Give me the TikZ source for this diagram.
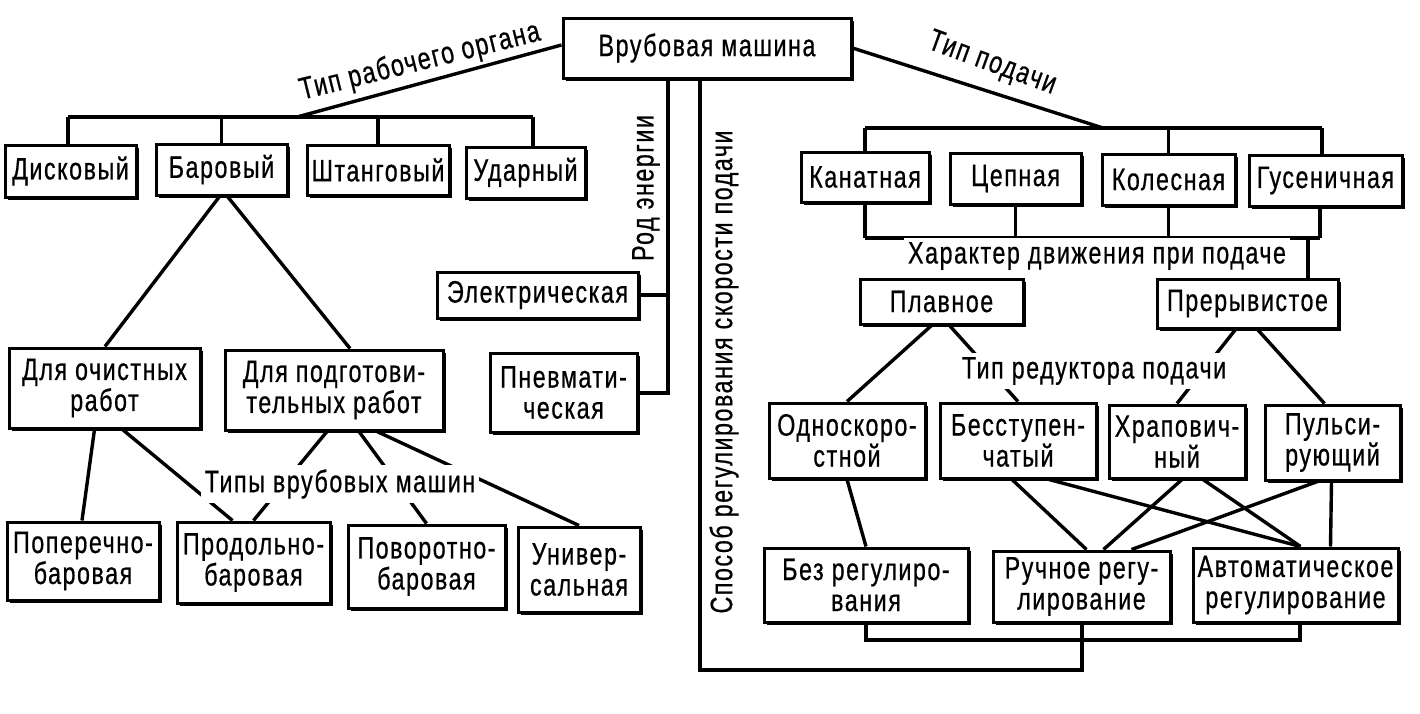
\documentclass[tikz,border=0pt]{standalone}
\usepackage{fontspec}
\setmainfont{Liberation Sans}[FakeStretch=0.75,LetterSpace=5,FakeBold=0.6]
\usetikzlibrary{shadows,calc}
\begin{document}
\begin{tikzpicture}[x=0.5pt,y=-0.5pt,
  every node/.style={font=\fontsize{15.5}{15.5}\selectfont},
  box/.style={draw, line width=1.5pt, fill=white, inner sep=0pt, align=center,
    drop shadow={shadow xshift=1.3pt, shadow yshift=-1.3pt, fill=black, opacity=1}},
  ln/.style={line width=1.7pt},
  lbl/.style={inner sep=1pt},
  wlbl/.style={fill=white, inner sep=2pt}]
\fill[white] (0,0) rectangle (1420,713);
\useasboundingbox (0,0) rectangle (1420,713);

% ---------- boxes ----------
\node[box, minimum width=144pt, minimum height=30pt] (main) at (707,48) {Врубовая машина};

\node[box, minimum width=65.5pt, minimum height=26pt] (disk) at (70.5,171) {Дисковый};
\node[box, minimum width=65.5pt, minimum height=25.5pt] (bar) at (221.5,169.5) {Баровый};
\node[box, minimum width=71pt, minimum height=25pt] (shtang) at (378,170) {Штанговый};
\node[box, minimum width=59.5pt, minimum height=25.5pt] (udar) at (525.5,172.5) {Ударный};

\node[box, minimum width=64pt, minimum height=25pt] (kanat) at (865,177) {Канатная};
\node[box, minimum width=65.5pt, minimum height=25.5pt] (cep) at (1015.5,178.5) {Цепная};
\node[box, minimum width=66.5pt, minimum height=25.5pt] (koles) at (1168.5,179.5) {Колесная};
\node[box, minimum width=76.5pt, minimum height=25.5pt] (gusen) at (1325.5,180.5) {Гусеничная};

\node[box, minimum width=81.5pt, minimum height=22.5pt] (plavn) at (941.5,301.5) {Плавное};
\node[box, minimum width=90.5pt, minimum height=24.5pt] (prer) at (1247.5,303.5) {Прерывистое};

\node[box, minimum width=78pt, minimum height=37.5pt] (odno) at (847,440.5) {Односкоро-\\стной};
\node[box, minimum width=78pt, minimum height=37.5pt] (besst) at (1018,440.5) {Бесступен-\\чатый};
\node[box, minimum width=68pt, minimum height=36.5pt] (hrap) at (1177,441.5) {Храпович-\\ный};
\node[box, minimum width=67.5pt, minimum height=37.5pt] (puls) at (1332.5,442.5) {Пульси-\\рующий};

\node[box, minimum width=102pt, minimum height=37pt] (bez) at (866,585) {Без регулиро-\\вания};
\node[box, minimum width=88.5pt, minimum height=35.5pt] (ruch) at (1081.5,586.5) {Ручное регу-\\лирование};
\node[box, minimum width=102.5pt, minimum height=37pt] (avto) at (1295.5,585) {Автоматическое\\регулирование};

\node[box, minimum width=100.5pt, minimum height=23pt] (elek) at (537.5,295) {Электрическая};
\node[box, minimum width=73.5pt, minimum height=39.5pt] (pnev) at (563.5,392.5) {Пневмати-\\ческая};

\node[box, minimum width=95.5pt, minimum height=40pt] (ochist) at (104.5,388) {Для очистных\\работ};
\node[box, minimum width=109pt, minimum height=40pt] (podg) at (334,390) {Для подготови-\\тельных работ};

\node[box, minimum width=76pt, minimum height=39pt] (poper) at (83,561) {Поперечно-\\баровая};
\node[box, minimum width=76.5pt, minimum height=40.5pt] (prod) at (253.5,562.5) {Продольно-\\баровая};
\node[box, minimum width=78.5pt, minimum height=41.5pt] (povor) at (426.5,566.5) {Поворотно-\\баровая};
\node[box, minimum width=61pt, minimum height=42.5pt] (univ) at (579,569.5) {Универ-\\сальная};

% ---------- coordinates ----------
\coordinate (busA1) at (68,117);
\coordinate (busA2) at (533,117);
\coordinate (busAm) at (297,117);
\coordinate (busB1) at (865,128);
\coordinate (busB2) at (1322,128);
\coordinate (busBm) at (1103,128);
\coordinate (busC1) at (865,238);
\coordinate (busC2) at (1320,238);
\coordinate (busC3) at (1308,238);
\coordinate (eline) at (668,393);
\coordinate (s1) at (700,670);
\coordinate (s2) at (1082,670);
\coordinate (busD1) at (866,640);
\coordinate (busD2) at (1300,640);

% ---------- connectors ----------
% working member
\draw[ln] ($(main.west)+(0,-3)$) -- (busAm);
\draw[ln] (busA1) -- (busA2);
\draw[ln] (busA1) -- (busA1 |- disk.north);
\draw[ln] (bar.north |- busA1) -- (bar.north);
\draw[ln] (shtang.north |- busA1) -- (shtang.north);
\draw[ln] (busA2) -- (busA2 |- udar.north);
% feed type
\draw[ln] (main.east) -- (busBm);
\draw[ln] (busB1) -- (busB2);
\draw[ln] (busB1) -- (busB1 |- kanat.north);
\draw[ln] (koles.north |- busB1) -- (koles.north);
\draw[ln] (busB2) -- (busB2 |- gusen.north);
\draw[ln] (busC1) -- (busC2);
\draw[ln] (kanat.south -| busC1) -- (busC1);
\draw[ln] (cep.south) -- (cep.south |- busC1);
\draw[ln] (koles.south) -- (koles.south |- busC1);
\draw[ln] (gusen.south -| busC2) -- (busC2);
\draw[ln] (busC3) -- (busC3 |- prer.north);
% energy
\draw[ln] (main.south -| eline) -- (eline) -- (eline -| pnev.east);
\draw[ln] (elek.east) -- (elek.east -| eline);
% speed regulation
\draw[ln] (main.south -| s1) -- (s1) -- (s2) -- (s2 |- ruch.south);
\draw[ln] (busD1 |- bez.south) -- (busD1) -- (busD2) -- (busD2 |- avto.south);
% bar machines
\draw[ln] ($(bar.south)+(-2,0)$) -- ($(ochist.north)+(0.5,0)$);
\draw[ln] ($(bar.south)+(6,0)$) -- ($(podg.north)+(16,0)$);
\draw[ln] ($(ochist.south)+(-10,0)$) -- ($(poper.north)+(-1,0)$);
\draw[ln] ($(ochist.south)+(18,0)$) -- ($(prod.north)+(-21,0)$);
\draw[ln] ($(podg.south)+(-7,0)$) -- (prod.north);
\draw[ln] ($(podg.south)+(25,0)$) -- (povor.north);
\draw[ln] ($(podg.south)+(43,0)$) -- (univ.north);
% movement / reducer
\draw[ln] ($(plavn.south)+(-10,0)$) -- (odno.north);
\draw[ln] ($(plavn.south)+(8,0)$) -- (besst.north);
\draw[ln] ($(prer.south)+(-12,0)$) -- (hrap.north);
\draw[ln] ($(prer.south)+(10,0)$) -- ($(puls.north)+(-8,0)$);
% reducer -> regulation
\draw[ln] (odno.south) -- (bez.north);
\draw[ln] ($(besst.south)+(-6,0)$) -- ($(ruch.north)+(5,0)$);
\draw[ln] ($(besst.south)+(31,0)$) -- ($(avto.north)+(5,0)$);
\draw[ln] ($(hrap.south)+(5,0)$) -- ($(ruch.north)+(22,0)$);
\draw[ln] ($(hrap.south)+(26,0)$) -- ($(avto.north)+(5,0)$);
\draw[ln] ($(puls.south)+(-15,0)$) -- ($(ruch.north)+(50,0)$);
\draw[ln] ($(puls.south)+(-1,0)$) -- ($(avto.north)+(35,0)$);

% ---------- labels ----------
\node[lbl, rotate=14] (lwork) at (420,62) {Тип рабочего органа};
\node[lbl, rotate=-20] (lfeed) at (992,64) {Тип подачи};
\node[lbl, rotate=90] (lenergy) at (646,188) {Род энергии};
\node[lbl, rotate=90] (lspeed) at (724,372) {Способ регулирования скорости подачи};
\node[wlbl] (lmove) at (1097,256) {Характер движения при подаче};
\node[wlbl] (lred) at (1094,371) {Тип редуктора подачи};
\node[wlbl] (ltypes) at (340,484) {Типы врубовых машин};
\end{tikzpicture}
\end{document}
